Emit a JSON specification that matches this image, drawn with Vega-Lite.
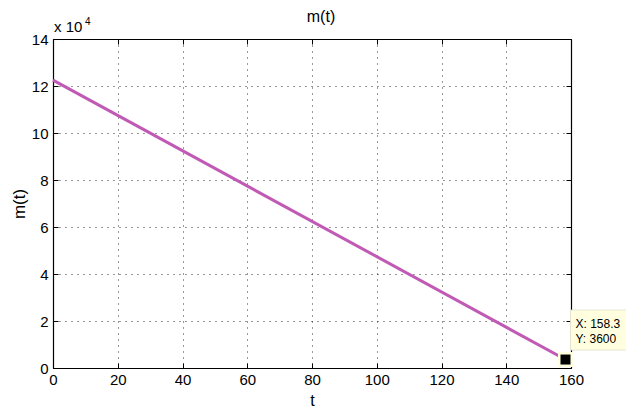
{
  "$schema": "https://vega.github.io/schema/vega-lite/v6.json",
  "width": 518,
  "height": 329,
  "autosize": {"type": "none"},
  "padding": {"left": 53, "top": 39, "right": 55, "bottom": 39},
  "background": "white",
  "config": {
    "font": "Liberation Sans",
    "view": {"stroke": null},
    "axis": {
      "domainColor": "black",
      "domainWidth": 1.2,
      "tickColor": "black",
      "tickSize": -5,
      "labelFont": "Liberation Sans",
      "labelFontSize": 15,
      "labelColor": "black",
      "titleFont": "Liberation Sans",
      "titleFontSize": 16,
      "titleFontWeight": "normal",
      "titleColor": "black",
      "gridColor": "black",
      "gridDash": [1, 5],
      "gridOpacity": 0.8
    }
  },
  "title": {"text": "m(t)", "fontSize": 16, "fontWeight": "normal", "font": "Liberation Sans", "offset": -8, "dx": 9, "color": "black"},
  "datasets": {
    "mass": [
      {"t": 0, "m": 122500},
      {"t": 158.3, "m": 3600}
    ],
    "tip": [
      {"t": 158.3, "m": 3600, "lx": "X: 158.3", "ly": "Y: 3600"}
    ],
    "mult": [
      {"t": 0, "m": 140000, "base": "x 10", "exp": "4"}
    ]
  },
  "layer": [
    {
      "data": {"name": "mass"},
      "mark": {"type": "line", "color": "#c05ab4", "strokeWidth": 3},
      "encoding": {
        "x": {"field": "t", "type": "quantitative", "title": "t",
              "scale": {"domain": [0, 160], "nice": false},
              "axis": {"values": [0, 20, 40, 60, 80, 100, 120, 140, 160], "grid": true, "labelPadding": 9, "titlePadding": 5, "labelFlush": false}},
        "y": {"field": "m", "type": "quantitative", "title": "m(t)",
              "scale": {"domain": [0, 140000], "nice": false},
              "axis": {"values": [0, 20000, 40000, 60000, 80000, 100000, 120000, 140000], "grid": true, "labelExpr": "datum.value / 10000", "labelPadding": 10, "titlePadding": 3, "titleFontSize": 17}}
      }
    },
    {
      "data": {"name": "mass"},
      "mark": {"type": "line", "opacity": 0},
      "encoding": {
        "x": {"field": "t", "type": "quantitative",
              "axis": {"orient": "top", "values": [0, 20, 40, 60, 80, 100, 120, 140, 160], "labels": false, "title": null, "grid": false}},
        "y": {"field": "m", "type": "quantitative",
              "axis": {"orient": "right", "values": [0, 20000, 40000, 60000, 80000, 100000, 120000, 140000], "labels": false, "title": null, "grid": false}}
      }
    },
    {
      "data": {"name": "tip"},
      "mark": {"type": "rect", "width": 60, "height": 40, "xOffset": 35, "yOffset": -29.5, "fill": "#ffffe0", "stroke": "#e0e0c8", "strokeWidth": 0.8, "clip": false},
      "encoding": {"x": {"field": "t", "type": "quantitative", "axis": null}, "y": {"field": "m", "type": "quantitative", "axis": null}}
    },
    {
      "data": {"name": "tip"},
      "mark": {"type": "square", "size": 225, "color": "#ffffe0", "opacity": 1, "filled": true},
      "encoding": {"x": {"field": "t", "type": "quantitative", "axis": null}, "y": {"field": "m", "type": "quantitative", "axis": null}}
    },
    {
      "data": {"name": "tip"},
      "mark": {"type": "square", "size": 100, "color": "black", "opacity": 1, "filled": true},
      "encoding": {"x": {"field": "t", "type": "quantitative", "axis": null}, "y": {"field": "m", "type": "quantitative", "axis": null}}
    },
    {
      "data": {"name": "tip"},
      "mark": {"type": "text", "align": "left", "baseline": "middle", "dx": 10, "dy": -35.5, "fontSize": 12, "color": "black"},
      "encoding": {"x": {"field": "t", "type": "quantitative", "axis": null}, "y": {"field": "m", "type": "quantitative", "axis": null}, "text": {"field": "lx"}}
    },
    {
      "data": {"name": "tip"},
      "mark": {"type": "text", "align": "left", "baseline": "middle", "dx": 10, "dy": -20.5, "fontSize": 12, "color": "black"},
      "encoding": {"x": {"field": "t", "type": "quantitative", "axis": null}, "y": {"field": "m", "type": "quantitative", "axis": null}, "text": {"field": "ly"}}
    },
    {
      "data": {"name": "mult"},
      "mark": {"type": "text", "align": "left", "baseline": "alphabetic", "dx": 1, "dy": -7, "fontSize": 15, "color": "black"},
      "encoding": {"x": {"field": "t", "type": "quantitative", "axis": null}, "y": {"field": "m", "type": "quantitative", "axis": null}, "text": {"field": "base"}}
    },
    {
      "data": {"name": "mult"},
      "mark": {"type": "text", "align": "left", "baseline": "alphabetic", "dx": 32, "dy": -14, "fontSize": 10, "color": "black"},
      "encoding": {"x": {"field": "t", "type": "quantitative", "axis": null}, "y": {"field": "m", "type": "quantitative", "axis": null}, "text": {"field": "exp"}}
    }
  ],
  "resolve": {"axis": {"x": "independent", "y": "independent"}}
}
